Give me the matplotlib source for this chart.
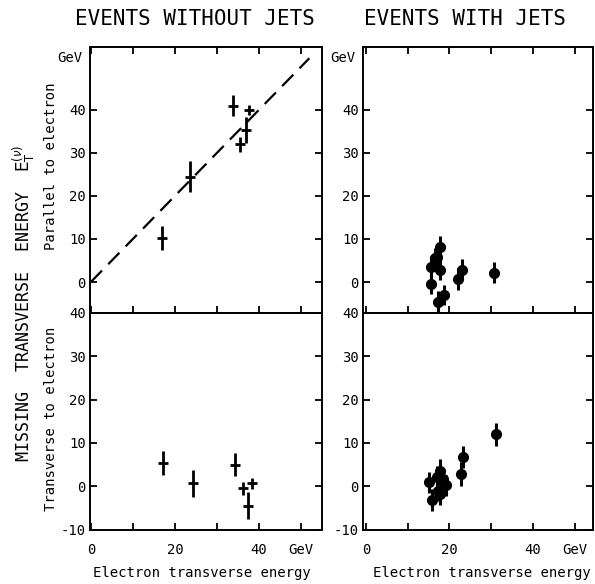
import matplotlib
matplotlib.use('Agg')
import matplotlib.pyplot as plt
import numpy as np

plt.rcParams['font.family'] = ['DejaVu Sans Mono', 'DejaVu Sans']
plt.rcParams['mathtext.fontset'] = 'dejavusans'
plt.rcParams['axes.unicode_minus'] = False

# events without jets: (E_T electron, missing E_T component, error)
nojet_x_par = [17.0, 23.6, 33.8, 35.5, 36.9, 37.7]
nojet_y_par = [10.2, 24.5, 41.0, 32.0, 35.3, 40.0]
nojet_e_par = [2.7, 3.5, 2.5, 1.8, 3.0, 1.2]

nojet_x_tr = [17.2, 24.2, 34.3, 36.1, 38.3, 37.5]
nojet_y_tr = [5.4, 0.7, 5.0, -0.5, 0.7, -4.5]
nojet_e_tr = [2.8, 3.1, 2.6, 1.5, 1.3, 3.1]

# events with jets
jet_x_par = [15.6, 15.6, 16.5, 17.0, 17.7, 17.7, 18.8, 17.3, 22.0, 23.0, 30.7]
jet_y_par = [-0.5, 3.6, 5.5, 5.9, 8.2, 2.9, -3.0, -4.6, 0.7, 2.9, 2.2]
jet_e_par = [2.4, 2.4, 2.4, 2.4, 2.5, 2.4, 2.4, 2.4, 2.5, 2.4, 2.5]

jet_x_tr = [15.1, 15.9, 17.0, 17.7, 18.5, 19.3, 17.3, 17.7, 22.8, 23.2, 31.1]
jet_y_tr = [0.9, -3.2, 2.1, 3.6, 1.7, 0.2, -1.0, -1.8, 2.9, 6.7, 12.0]
jet_e_tr = [2.5, 2.6, 2.5, 2.7, 2.5, 2.5, 2.5, 2.5, 2.8, 2.6, 2.7]

xticks = [0, 10, 20, 30, 40, 50]
xticklabels = ['0', '', '20', '', '40', 'GeV']
yticks_top = [0, 10, 20, 30, 40]
yticks_bot = [-10, 0, 10, 20, 30, 40]

W, H = 595, 584
fig = plt.figure(figsize=(W / 100, H / 100), dpi=100)


def box(x0, y0, x1, y1):
    return [x0 / W, 1 - y1 / H, (x1 - x0) / W, (y1 - y0) / H]


def style(ax, top_ticks):
    for s in ax.spines.values():
        s.set_linewidth(1.4)
    ax.tick_params(direction='in', length=5, width=1.3, labelsize=10,
                   right=True, top=top_ticks, pad=3)
    ax.tick_params(axis='x', pad=9)
    ax.set_xticks(xticks)


axes = {}
for col, (x0, x1, xl) in enumerate([(90, 322, (-0.2, 55.0)), (363, 593, (-0.7, 54.4))]):
    at = fig.add_axes(box(x0, 47, x1, 313))
    ab = fig.add_axes(box(x0, 313, x1, 530))
    at.set_xlim(*xl)
    ab.set_xlim(*xl)
    at.set_ylim(-7.2, 54.6)
    ab.set_ylim(-10.1, 40.0)
    style(at, True)
    style(ab, False)
    at.set_xticklabels([])
    ab.set_xticklabels(xticklabels)
    at.set_yticks(yticks_top)
    ab.set_yticks(yticks_bot)
    at.text(-0.035, 52, 'GeV', transform=at.get_yaxis_transform(),
            ha='right', va='center', fontsize=10)
    axes[col] = (at, ab)

# events without jets: crosses
at, ab = axes[0]
at.plot([0, 52], [0, 52], color='black', lw=1.6, dashes=(7.2, 4))
at.errorbar(nojet_x_par, nojet_y_par, yerr=nojet_e_par, xerr=1.2, fmt='none',
            ecolor='black', elinewidth=2.0, capsize=0)
ab.errorbar(nojet_x_tr, nojet_y_tr, yerr=nojet_e_tr, xerr=1.2, fmt='none',
            ecolor='black', elinewidth=2.0, capsize=0)

# events with jets: dots
at, ab = axes[1]
at.errorbar(jet_x_par, jet_y_par, yerr=jet_e_par, fmt='o', color='black',
            ms=7, elinewidth=2.2, capsize=0)
ab.errorbar(jet_x_tr, jet_y_tr, yerr=jet_e_tr, fmt='o', color='black',
            ms=7, elinewidth=2.2, capsize=0)


def ftext(x, y, s, **kw):
    fig.text(x / W, 1 - y / H, s, ha='center', va='center', **kw)


ftext(195, 19, 'EVENTS WITHOUT JETS', fontsize=15)
ftext(465, 19, 'EVENTS WITH JETS', fontsize=15)
ftext(24, 303, r'MISSING  TRANSVERSE  ENERGY  $\mathrm{E}_\mathrm{T}^{(\nu)}$',
      fontsize=12, rotation=90)
ftext(51, 166, 'Parallel to electron', fontsize=10, rotation=90)
ftext(51, 419, 'Transverse to electron', fontsize=10, rotation=90)
ftext(202, 573, 'Electron transverse energy', fontsize=10)
ftext(482, 573, 'Electron transverse energy', fontsize=10)

fig.savefig('out.png', dpi=100)
